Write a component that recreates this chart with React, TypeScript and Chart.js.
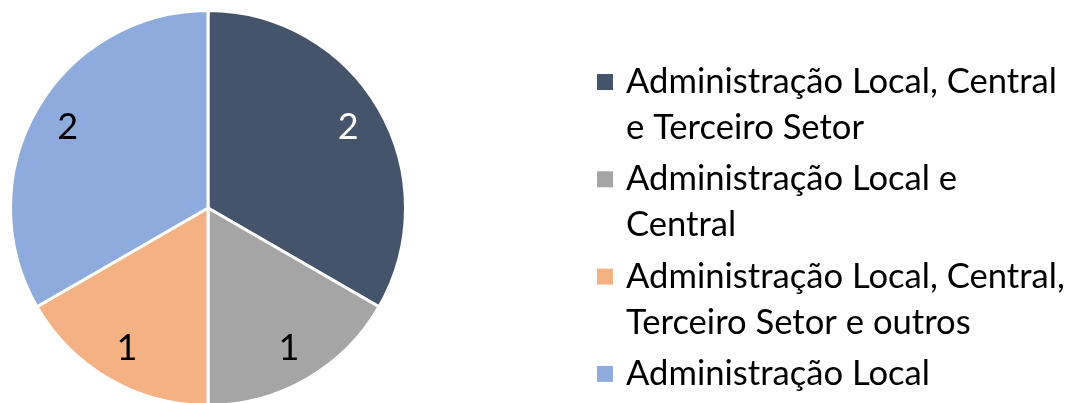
import React, { useEffect, useRef } from "react";
import { Chart, registerables } from "chart.js";

Chart.register(...registerables);

const categories: string[][] = [
  ["Administração Local, Central", "e Terceiro Setor"],
  ["Administração Local e", "Central"],
  ["Administração Local, Central,", "Terceiro Setor e outros"],
  ["Administração Local"],
];
const values: number[] = [2, 1, 1, 2];
const colors: string[] = ["#44546A", "#A5A5A5", "#F4B183", "#8FAADC"];
const labelColors: string[] = ["#FFFFFF", "#000000", "#000000", "#000000"];

const FONT_FAMILY = "Lato, 'Open Sans', sans-serif";

function fitFontSize(ctx: CanvasRenderingContext2D, text: string, target: number, max: number) {
  ctx.font = `100px ${FONT_FAMILY}`;
  const w = ctx.measureText(text).width;
  return Math.min(max, (100 * target) / w);
}

const labelsPlugin = {
  id: "sliceLabels",
  afterDatasetsDraw(chart: any) {
    const ctx: CanvasRenderingContext2D = chart.ctx;
    const meta = chart.getDatasetMeta(0);
    ctx.save();
    ctx.font = `36px ${FONT_FAMILY}`;
    ctx.textAlign = "center";
    ctx.textBaseline = "middle";
    meta.data.forEach((arc: any, i: number) => {
      const p = arc.getProps(["startAngle", "endAngle", "outerRadius", "x", "y"], true);
      const mid = (p.startAngle + p.endAngle) / 2;
      const r = p.outerRadius * 0.82;
      ctx.fillStyle = labelColors[i];
      ctx.fillText(String(values[i]), p.x + Math.cos(mid) * r, p.y + Math.sin(mid) * r);
    });
    ctx.restore();
  },
};

const legendPlugin = {
  id: "customLegend",
  afterDraw(chart: any) {
    const ctx: CanvasRenderingContext2D = chart.ctx;
    const size = fitFontSize(ctx, "Administração Local, Central,", 439, 36);
    ctx.save();
    ctx.font = `${size}px ${FONT_FAMILY}`;
    ctx.textAlign = "left";
    ctx.textBaseline = "alphabetic";
    const boxX = 597;
    const textX = 626;
    const firstBaseline = 93;
    const entryStep = 97.3;
    const lineStep = 46;
    categories.forEach((lines, i) => {
      const base = firstBaseline + i * entryStep;
      ctx.fillStyle = colors[i];
      ctx.fillRect(boxX, base - 19, 16, 16);
      ctx.fillStyle = "#000000";
      lines.forEach((line, j) => {
        ctx.fillText(line, textX, base + j * lineStep);
      });
    });
    ctx.restore();
  },
};

export default function App() {
  const ref = useRef<HTMLCanvasElement | null>(null);
  useEffect(() => {
    document.body.style.margin = "0";
    document.body.style.overflow = "hidden";
    const canvas = ref.current!;
    const chart = new Chart(canvas, {
      type: "pie",
      data: {
        labels: categories,
        datasets: [
          {
            data: values,
            backgroundColor: colors,
            borderColor: "#FFFFFF",
            borderWidth: 3,
          },
        ],
      },
      options: {
        responsive: false,
        animation: false,
        devicePixelRatio: 1,
        layout: { padding: { left: 9, top: 9, right: 664, bottom: 9 } },
        plugins: {
          legend: { display: false },
          tooltip: { enabled: false },
        },
      },
      plugins: [labelsPlugin, legendPlugin],
    });
    return () => chart.destroy();
  }, []);
  return (
    <div style={{ position: "fixed", left: 0, top: 0, width: 1071, height: 416, background: "#fff" }}>
      <canvas ref={ref} width={1071} height={416} style={{ display: "block" }} />
    </div>
  );
}
